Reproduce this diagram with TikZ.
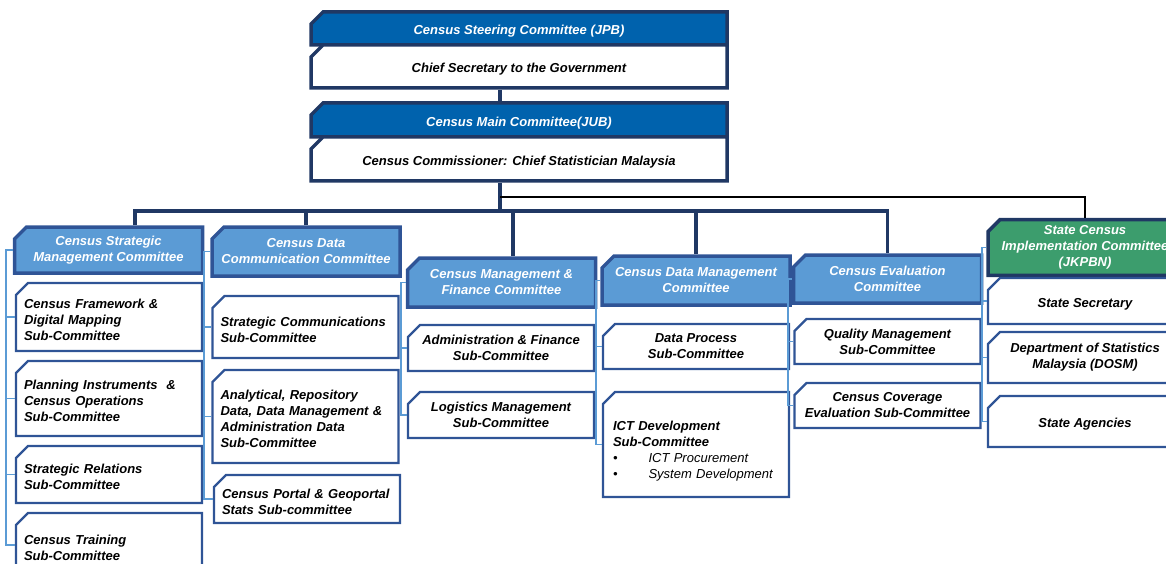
\documentclass[tikz,border=0pt]{standalone}
\usepackage{fontspec}
\setmainfont{Liberation Sans}
\usetikzlibrary{shapes.misc}
\definecolor{navy}{HTML}{203864}
\definecolor{topblue}{HTML}{0062AD}
\definecolor{skyblue}{HTML}{5B9BD5}
\definecolor{edgeblue}{HTML}{2F5496}
\definecolor{jkgreen}{HTML}{3C9D6D}
\tikzset{
  cbox/.style={chamfered rectangle, chamfered rectangle corners=north west,
    chamfered rectangle xsep=6pt, chamfered rectangle ysep=6pt,
    inner xsep=2pt, inner ysep=0pt, align=center,
    execute at begin node={\noindent\rule{0pt}{15pt}},
    font=\fontsize{13}{16}\selectfont\bfseries\itshape},
  topbar/.style={cbox, fill=topblue, draw=navy, line width=3.5pt, text=white,
    minimum width=416pt, minimum height=#1},
  topbody/.style={cbox, fill=white, draw=navy, line width=3.5pt,
    minimum width=416pt, minimum height=#1},
  hdr/.style={cbox, fill=skyblue, draw=edgeblue, line width=3.5pt, text=white,
    minimum width=188pt, minimum height=#1},
  subbox/.style={cbox, fill=white, draw=edgeblue, line width=2.2pt,
    minimum width=186pt, minimum height=#1},
  leftbox/.style={subbox=#1, align=left, text width=170pt},
  bus/.style={draw=navy, line width=3.5pt},
  tie/.style={draw=skyblue, line width=1.8pt},
  feed/.style={draw=black, line width=1.8pt}
}
\begin{document}
\begin{tikzpicture}[x=1pt,y=-1pt]
\useasboundingbox (0,0) rectangle (1166,564);
\clip (0,0) rectangle (1166,564);

\node[topbar=33pt] (steerhdr) at (519,28.5) {Census Steering Committee (JPB)};
\node[topbody=43pt] (steerbody) at (519,66.5) {Chief Secretary to the Government};
\node[topbar=34pt] (mainhdr) at (519,120) {Census Main Committee(JUB)};
\node[topbody=44pt] (mainbody) at (519,159) {Census Commissioner: Chief Statistician Malaysia};

\node[hdr=46pt] (smc) at (108.5,250) {Census Strategic\\Management Committee};
\node[leftbox=68pt] (fw) at (109,317) {Census Framework \&\\Digital Mapping\\Sub-Committee};
\node[leftbox=75pt] (pi) at (109,398.5) {Planning Instruments \ \&\\Census Operations\\Sub-Committee};
\node[leftbox=57pt] (sr) at (109,474.5) {Strategic Relations\\Sub-Committee};
\node[leftbox=64pt] (tr) at (109,545) {Census Training\\Sub-Committee};

\node[hdr=49pt] (dcc) at (306,251.5) {Census Data\\Communication Committee};
\node[leftbox=62pt] (sc) at (305.5,327) {Strategic Communications\\Sub-Committee};
\node[leftbox=93pt] (an) at (305.5,416.5) {Analytical, Repository\\Data, Data Management \&\\Administration Data\\Sub-Committee};
\node[leftbox=48pt] (cp) at (307,499) {Census Portal \& Geoportal\\Stats Sub-committee};

\node[hdr=49pt] (cmf) at (501.5,282.5) {Census Management \&\\Finance Committee};
\node[subbox=46pt] (af) at (501,348) {Administration \& Finance\\Sub-Committee};
\node[subbox=46pt] (lm) at (501,415) {Logistics Management\\Sub-Committee};

\node[hdr=49pt] (dmc) at (696,280.5) {Census Data Management\\Committee};
\node[subbox=45pt] (dp) at (696,346.5) {Data Process\\Sub-Committee};
\node[leftbox=105pt, text width=166pt,
  execute at begin node={\noindent\rule{0pt}{23pt}}] (ict) at (696,444.5) {ICT Development\\Sub-Committee\\
  {\mdseries\textbullet\hspace{31pt}ICT Procurement}\\
  {\mdseries\textbullet\hspace{31pt}System Development}};

\node[hdr=48pt] (cec) at (887.5,279) {Census Evaluation\\Committee};
\node[subbox=45pt] (qm) at (887.5,341.5) {Quality Management\\Sub-Committee};
\node[subbox=45pt] (cc) at (887.5,405.5) {Census Coverage\\Evaluation Sub-Committee};

\node[hdr=49pt, fill=jkgreen, draw=navy, minimum width=194pt] (sci) at (1085,247.5) {State Census\\Implementation Committee\\(JKPBN)};
\node[subbox=46pt, minimum width=194pt] (ss) at (1085,301) {State Secretary};
\node[subbox=51pt, minimum width=194pt] (dosm) at (1085,357.5) {Department of Statistics\\Malaysia (DOSM)};
\node[subbox=51pt, minimum width=194pt] (sa) at (1085,421.5) {State Agencies};

\draw[bus] ([xshift=-19pt]steerbody.south) -- ([xshift=-19pt]mainhdr.north);
\draw[bus] ([xshift=-19pt]mainbody.south) -- ++(0,28) coordinate (fork);
\path ([xshift=-19pt]mainbody.south) ++(0,14) coordinate (tap);
\draw[feed] (tap) -| (sci.north);
\draw[bus] ([xshift=26.5pt]smc.north) |- (fork) -| (cec.north);
\draw[bus] (dcc.north) |- (fork);
\draw[bus] ([xshift=11.5pt]cmf.north) |- (fork);
\draw[bus] (dmc.north) |- (fork);

\draw[tie] (smc.west) -- ++(-7,0) |- (fw.west);
\draw[tie] (smc.west) -- ++(-7,0) |- (pi.west);
\draw[tie] (smc.west) -- ++(-7,0) |- (sr.west);
\draw[tie] (smc.west) -- ++(-7,0) |- (tr.west);
\draw[tie] (dcc.west) -- ++(-6,0) |- (sc.west);
\draw[tie] (dcc.west) -- ++(-6,0) |- (an.west);
\draw[tie] (dcc.west) -- ++(-6,0) |- (cp.west);
\draw[tie] (cmf.west) -- ++(-5,0) |- (af.west);
\draw[tie] (cmf.west) -- ++(-5,0) |- (lm.west);
\draw[tie] (dmc.west) -- ++(-4,0) |- (dp.west);
\draw[tie] (dmc.west) -- ++(-4,0) |- (ict.west);
\draw[tie] (cec.west) -- ++(-4,0) |- (qm.west);
\draw[tie] (cec.west) -- ++(-4,0) |- (cc.west);
\draw[tie] (sci.west) -- ++(-4,0) |- (ss.west);
\draw[tie] (sci.west) -- ++(-4,0) |- (dosm.west);
\draw[tie] (sci.west) -- ++(-4,0) |- (sa.west);
\end{tikzpicture}
\end{document}
